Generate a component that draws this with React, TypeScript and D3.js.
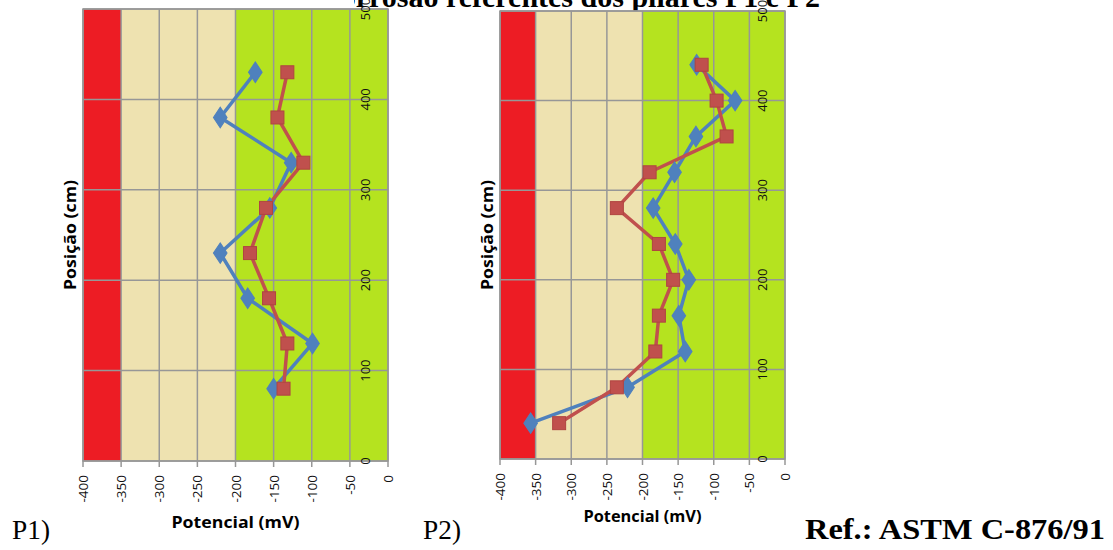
import * as d3 from 'd3';

// potencial (mV) lido em cada posição (cm)
const POS_P1 = [430, 380, 330, 280, 230, 180, 130, 80];
const P1_BLUE = [-174, -220, -127, -155, -220, -184, -99, -150];
const P1_RED = [-132, -145, -111, -160, -181, -156, -132, -137];

const POS_P2 = [440, 400, 360, 320, 280, 240, 200, 160, 120, 80, 40];
const P2_BLUE = [-124, -70, -125, -155, -185, -154, -135, -149, -140, -221, -357];
const P2_RED = [-117, -96, -82, -190, -236, -177, -157, -177, -182, -236, -317];

const X_TICKS = [-400, -350, -300, -250, -200, -150, -100, -50, 0];
const Y_TICKS = [0, 100, 200, 300, 400, 500];
const ZONES = [
  { from: -400, to: -350, color: '#ED1C24' },
  { from: -350, to: -200, color: '#EEE2B0' },
  { from: -200, to: 0, color: '#B5E31F' },
];

const BLUE = '#4F81BD';
const RED = '#C0504D';
const GRID = '#979797';
const SANS = '"Open Sans", "DejaVu Sans", sans-serif';
const SERIF = '"Liberation Serif", "Times New Roman", serif';

interface PanelProps {
  x0: number;
  x1: number;
  y0: number;
  y1: number;
  pos: number[];
  blue: number[];
  red: number[];
  yTitleX: number;
  xTitleY: number;
  xTitleLen: number;
}

function Panel({ x0, x1, y0, y1, pos, blue, red, yTitleX, xTitleY, xTitleLen }: PanelProps) {
  const x = d3.scaleLinear().domain([-400, 0]).range([x0, x1]);
  const y = d3.scaleLinear().domain([0, 500]).range([y1, y0]);
  const line = d3
    .line<[number, number]>()
    .x((d) => x(d[0]))
    .y((d) => y(d[1]));
  const blueData = blue.map((v, i) => [v, pos[i]] as [number, number]);
  const redData = red.map((v, i) => [v, pos[i]] as [number, number]);
  const diamond = d3.symbol(d3.symbolDiamond, 120)() ?? '';

  return (
    <g>
      {ZONES.map((z) => (
        <rect
          key={z.from}
          x={x(z.from)}
          y={y0}
          width={x(z.to) - x(z.from)}
          height={y1 - y0}
          fill={z.color}
        />
      ))}
      {X_TICKS.map((t) => (
        <line key={`v${t}`} x1={x(t)} x2={x(t)} y1={y0} y2={y1 + 6} stroke={GRID} strokeWidth={1.5} />
      ))}
      {Y_TICKS.map((t) => (
        <line key={`h${t}`} x1={x0} x2={x1} y1={y(t)} y2={y(t)} stroke={GRID} strokeWidth={1.5} />
      ))}
      <rect x={x0} y={y0} width={x1 - x0} height={y1 - y0} fill="none" stroke={GRID} strokeWidth={1.5} />

      {Y_TICKS.map((t) => (
        <text
          key={`yl${t}`}
          transform={`translate(${x1 - 23},${y(t)}) rotate(-90)`}
          textAnchor="middle"
          dominantBaseline="central"
          fontFamily={SANS}
          fontSize={13}
          fill="#111"
        >
          {t}
        </text>
      ))}
      {X_TICKS.map((t) => (
        <text
          key={`xl${t}`}
          transform={`translate(${x(t)},${y1 + 14}) rotate(-90)`}
          textAnchor="end"
          dominantBaseline="central"
          fontFamily={SANS}
          fontSize={13.5}
          fill="#111"
        >
          {t}
        </text>
      ))}

      <path d={line(blueData) ?? ''} fill="none" stroke={BLUE} strokeWidth={3.5} strokeLinejoin="round" />
      <path d={line(redData) ?? ''} fill="none" stroke={RED} strokeWidth={3.5} strokeLinejoin="round" />
      {blueData.map((d, i) => (
        <path
          key={`bm${i}`}
          d={diamond}
          transform={`translate(${x(d[0])},${y(d[1])}) scale(1.15,1)`}
          fill={BLUE}
          stroke={BLUE}
          strokeWidth={1}
        />
      ))}
      {redData.map((d, i) => (
        <rect
          key={`rm${i}`}
          x={x(d[0]) - 6.5}
          y={y(d[1]) - 6.5}
          width={13}
          height={13}
          fill={RED}
          stroke="#B04441"
          strokeWidth={1}
        />
      ))}

      <text
        transform={`translate(${yTitleX},${(y0 + y1) / 2}) rotate(-90)`}
        textAnchor="middle"
        dominantBaseline="central"
        fontFamily={SANS}
        fontWeight={700}
        fontSize={16}
        textLength={110}
        lengthAdjust="spacingAndGlyphs"
        fill="#000"
      >
        Posição (cm)
      </text>
      <text
        x={(x0 + x1) / 2}
        y={xTitleY}
        textAnchor="middle"
        fontFamily={SANS}
        fontWeight={700}
        fontSize={16}
        textLength={xTitleLen}
        lengthAdjust="spacingAndGlyphs"
        fill="#000"
      >
        Potencial (mV)
      </text>
    </g>
  );
}

export default function App() {
  return (
    <svg
      width={1113}
      height={550}
      style={{ position: 'absolute', left: 0, top: 0, background: '#fff' }}
    >
      <text
        x={820}
        y={7}
        textAnchor="end"
        fontFamily={SERIF}
        fontWeight={700}
        fontSize={30}
        fill="#000"
      >
        Potenciais de corrosão referentes dos pilares P1 e P2
      </text>
      <rect x={0} y={0} width={354} height={20} fill="#fff" />

      <Panel
        x0={83}
        x1={388}
        y0={9}
        y1={461}
        pos={POS_P1}
        blue={P1_BLUE}
        red={P1_RED}
        yTitleX={70}
        xTitleY={528}
        xTitleLen={128}
      />
      <Panel
        x0={500}
        x1={785}
        y0={11}
        y1={459}
        pos={POS_P2}
        blue={P2_BLUE}
        red={P2_RED}
        yTitleX={487}
        xTitleY={522}
        xTitleLen={118}
      />

      <text x={12} y={539} fontFamily={SERIF} fontSize={28} textLength={38} lengthAdjust="spacingAndGlyphs" fill="#000">
        P1)
      </text>
      <text x={423} y={539} fontFamily={SERIF} fontSize={28} textLength={38} lengthAdjust="spacingAndGlyphs" fill="#000">
        P2)
      </text>
      <text
        x={805}
        y={539}
        fontFamily={SERIF}
        fontWeight={700}
        fontSize={29}
        textLength={300}
        lengthAdjust="spacingAndGlyphs"
        fill="#000"
      >
        Ref.: ASTM C-876/91
      </text>
    </svg>
  );
}
